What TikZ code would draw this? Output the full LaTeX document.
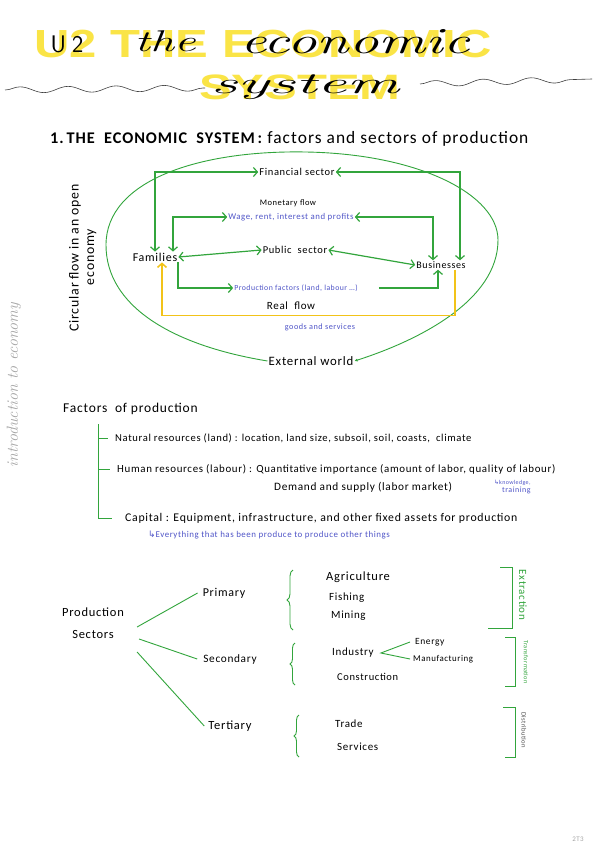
\documentclass[tikz,border=0pt]{standalone}
\usepackage{fontspec}
\newfontfamily\handfont[LetterSpace=6]{Carlito}
\newfontfamily\blockfont{Liberation Sans}
\newfontfamily\symfont{DejaVu Sans}
\usepackage{tikz}
\usetikzlibrary{arrows.meta,decorations.pathmorphing,decorations.pathreplacing}
\definecolor{inkgreen}{RGB}{50,165,60}
\definecolor{hlyellow}{RGB}{250,228,70}
\definecolor{inkblue}{RGB}{80,85,200}
\definecolor{inkorange}{RGB}{242,195,25}
\definecolor{pencil}{RGB}{165,165,165}
\newcommand\fs[1]{\fontsize{#1}{#1}\selectfont}

\begin{document}
\begin{tikzpicture}[x=1pt,y=-1pt,
  hand/.style={inner sep=1pt,font=\handfont\fs{10}},
  note/.style={inner sep=1pt,text=inkblue,font=\handfont\fs{8}},
  hlblock/.style={inner sep=0pt,text=hlyellow,font=\blockfont\bfseries\fs{49}},
  curs/.style={inner sep=0pt,font=\itshape},
  gline/.style={draw=inkgreen,line width=0.9pt},
  gflow/.style={draw=inkgreen,line width=1.2pt,>={Straight Barb[length=4pt,width=9pt]}},
  yflow/.style={draw=inkorange,line width=1.5pt,>={Straight Barb[length=4pt,width=9pt]}},
  wave/.style={draw=black!75,line width=0.6pt,decorate,decoration={snake,amplitude=3pt,segment length=48pt}}]
\fill[white] (0,0) rectangle (600,848);
\useasboundingbox (0,0) rectangle (600,848);
\node[hlblock] (hlone) at (263,44) {\scalebox{1}[0.8]{U2 THE ECONOMIC}};
\node[hlblock] (hltwo) at (300,87) {\scalebox{1}[0.72]{SYSTEM}};
\node[curs] (tunit) at (67,44) {\upshape\sffamily\fs{24}U\hspace{6pt}2};
\node[curs,anchor=base] (tthe) at (165,52) {\scalebox{1.6}[1]{\fs{30}the}};
\node[curs,anchor=base] (teco) at (355,54) {\scalebox{1.59}[1]{\fs{37}economic}};
\node[curs,anchor=base] (tsys) at (305,94) {\scalebox{2.2}[1]{\fs{30}system}};
\draw[wave] (5,90) -- (205,88);
\draw[wave] (420,84) -- (592,79);
\node[hand,anchor=base west] (hcaps) at (49,143) {\bfseries\fs{16.3}1.\,THE\ \ ECONOMIC\ \ SYSTEM\,:};
\node[hand,anchor=base west] (hlow) at (hcaps.base east) {\fs{17.4}\,factors and sectors of production};
\node[hand] (fin) at (297,172) {\fs{10.5}Financial sector};
\node[hand] (mon) at (288,203) {\fs{8.5}Monetary flow};
\node[note] (wage) at (291,217) {\fs{8.8}Wage, rent, interest and profits};
\node[hand] (fam) at (155,257) {\fs{12}Families};
\node[hand] (pub) at (295,250) {\fs{10.5}Public\ \ sector};
\node[hand] (bus) at (441,265) {\fs{10}Businesses};
\node[note] (prod) at (296,288) {\fs{7.8}Production factors (land, labour \dots)};
\node[hand] (real) at (291,306) {\fs{11}Real\ \ flow};
\node[note] (goods) at (320,327) {\fs{8.2}goods and services};
\node[hand] (ext) at (311,361) {\fs{12.8}External world};
\node[hand,rotate=90] (circ) at (75,258) {\fs{13.8}Circular flow in an open};
\node[hand,rotate=90] (econ) at (92,257) {\fs{13.8}economy};
\node[rotate=90,text=pencil,font=\itshape\fs{16}] (intro) at (14,385) {introduction to economy};
\draw[gline,-{Latex[length=3pt,width=3pt]}] (ext.west) .. controls (170,345) and (106,305) .. (106,245) .. controls (106,180) and (200,150) .. (306,152) .. controls (420,154) and (498,195) .. (498,240) .. controls (498,300) and (420,340) .. (ext.east);
\draw[gflow,<->] (fin.west) -| (fam.north);
\draw[gflow,<->] (fin.east) -| ([xshift=19pt]bus.north);
\draw[gflow,<->] (wage.west) -| ([xshift=18pt]fam.north);
\draw[gflow,<->] (wage.east) -| ([xshift=-8pt]bus.north);
\draw[gflow,<->] (fam.east) -- (pub.west);
\draw[gflow,<->] (pub.east) -- (bus.west);
\draw[gflow,->] ([xshift=23pt]fam.south) |- (prod.west);
\draw[gflow,->] ([xshift=20pt]prod.east) -| ([xshift=-3pt]bus.south);
\draw[yflow,->] ([xshift=14pt]bus.south) -- ++(0,46) -| ([xshift=7pt]fam.south);
\node[hand,anchor=west] (fac) at (62,409) {\fs{13.5}Factors\ \ of production};
\coordinate (fork) at (98,424);
\node[hand,anchor=west] (nat) at (114,438) {\fs{10.6}Natural resources (land) : location, land size, subsoil, soil, coasts,\ \ climate};
\node[hand,anchor=west] (hum) at (116,469) {\fs{10.9}Human resources (labour) : Quantitative importance (amount of labor, quality of labour)};
\node[hand,anchor=west] (dem) at (273,487) {\fs{11.3}Demand and supply (labor market)};
\node[note,anchor=north west,align=left] (know) at (493,479) {\fs{6}{\symfont ↳}knowledge,\\\hspace{8pt}training};
\node[hand,anchor=west] (cap) at (124,518) {\fs{11.8}Capital : Equipment, infrastructure, and other fixed assets for production};
\node[note,anchor=west] (every) at (147,535) {\fs{8.9}{\symfont ↳}Everything that has been produce to produce other things};
\draw[gline] (fork) |- ([xshift=-6pt]nat.west);
\draw[gline] (fork) |- ([xshift=-6pt]hum.west);
\draw[gline] (fork) |- ([xshift=-12pt]cap.west);
\node[hand,align=center,font=\handfont\fontsize{12.5}{22}\selectfont] (ps) at (93,623) {Production\\Sectors};
\node[hand] (pri) at (224,593) {\fs{12}Primary};
\node[hand] (sec) at (230,659) {\fs{11.3}Secondary};
\node[hand] (ter) at (230,726) {\fs{12.5}Tertiary};
\draw[gline] ([xshift=12pt,yshift=-4pt]ps.east) -- ([xshift=-4pt]pri.west);
\draw[gline] ([xshift=14pt,yshift=-16pt]ps.east) -- ([xshift=-5pt]sec.west);
\draw[gline] ([xshift=12pt,yshift=-29pt]ps.east) -- ([xshift=-3pt]ter.west);
\draw[gline,decorate,decoration={brace,amplitude=6pt}] (293,630) -- (293,570);
\draw[gline,decorate,decoration={brace,amplitude=5pt}] (295,685) -- (295,643);
\draw[gline,decorate,decoration={brace,amplitude=5pt}] (299,757) -- (299,715);
\node[hand,anchor=west] (agr) at (325,577) {\fs{12.5}Agriculture};
\node[hand,anchor=west] (fish) at (328,598) {\fs{11}Fishing};
\node[hand,anchor=west] (mine) at (330,616) {\fs{11}Mining};
\node[hand,anchor=west] (ind) at (331,653) {\fs{11}Industry};
\node[hand,anchor=west] (cons) at (336,677) {\fs{10.5}Construction};
\node[hand,anchor=west] (trade) at (334,724) {\fs{11}Trade};
\node[hand,anchor=west] (serv) at (336,747) {\fs{11}Services};
\node[hand,anchor=west] (ene) at (414,642) {\fs{9.5}Energy};
\node[hand,anchor=west] (manu) at (412,659) {\fs{8.9}Manufacturing};
\draw[gline] ([xshift=-4pt]ene.west) -- ([xshift=6pt]ind.east) -- ([xshift=-2pt]manu.west);
\draw[gline] (488,628) -- (512,628) -- (512,567) -- (500,567);
\node[hand,rotate=-90,text=inkgreen] (extr) at (523,595) {\fs{11}Extraction};
\draw[gline] (505,686) -- (515,686) -- (515,637) -- (505,637);
\node[hand,rotate=-90,text=inkgreen] (trans) at (526,662) {\fs{6.3}Transformation};
\draw[gline] (505,757) -- (515,757) -- (515,707) -- (503,707);
\node[hand,rotate=-90,text=black!70] (dist) at (524,730) {\fs{6.6}Distribution};
\node[hand,text=pencil] (pnum) at (578,839) {\fs{7}2T3};
\end{tikzpicture}
\end{document}
